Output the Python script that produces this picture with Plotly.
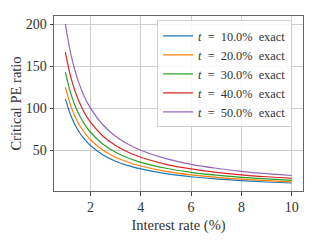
import plotly.graph_objects as go

interest_rate = [1, 1.25, 1.5, 1.75, 2, 2.5, 3, 3.5, 4, 5, 6, 7, 8, 9, 10]
tax_labels = ["10.0%", "20.0%", "30.0%", "40.0%", "50.0%"]
pe_t10 = [111.1, 88.9, 74.1, 63.5, 55.6, 44.4, 37.0, 31.7, 27.8, 22.2, 18.5, 15.9, 13.9, 12.3, 11.1]
pe_t20 = [125.0, 100.0, 83.3, 71.4, 62.5, 50.0, 41.7, 35.7, 31.3, 25.0, 20.8, 17.9, 15.6, 13.9, 12.5]
pe_t30 = [142.9, 114.3, 95.2, 81.6, 71.4, 57.1, 47.6, 40.8, 35.7, 28.6, 23.8, 20.4, 17.9, 15.9, 14.3]
pe_t40 = [166.7, 133.3, 111.1, 95.2, 83.3, 66.7, 55.6, 47.6, 41.7, 33.3, 27.8, 23.8, 20.8, 18.5, 16.7]
pe_t50 = [200.0, 160.0, 133.3, 114.3, 100.0, 80.0, 66.7, 57.1, 50.0, 40.0, 33.3, 28.6, 25.0, 22.2, 20.0]
series = [pe_t10, pe_t20, pe_t30, pe_t40, pe_t50]
colors = ["#1f77b4", "#ff7f0e", "#2ca02c", "#d62728", "#9467bd"]

font_family = "Liberation Serif"
text_color = "#333"

fig = go.Figure()
for lab, ys, c in zip(tax_labels, series, colors):
    fig.add_trace(go.Scatter(
        x=interest_rate, y=ys, mode="lines", line_shape="spline",
        line=dict(color=c, width=1.2),
        name=f"<i>t</i>&nbsp;&nbsp;=&nbsp;&nbsp;{lab}&nbsp;&nbsp;exact",
    ))

axis_common = dict(
    showline=True, mirror=True, linecolor="#666", linewidth=1,
    showgrid=True, gridcolor="#cfcfcf", gridwidth=1,
    ticks="outside", ticklen=3.5, tickcolor="#444", tickwidth=1,
    zeroline=False, automargin=False,
    tickfont=dict(family=font_family, size=14, color=text_color),
)

# page body has an 8px margin, so the figure is sized to fit the remaining window
fig.update_layout(
    width=312, height=232,
    margin=dict(l=46, r=17, t=8, b=49),
    paper_bgcolor="white", plot_bgcolor="white",
    font=dict(family=font_family, size=13.5, color=text_color),
    xaxis=dict(range=[0.55, 10.45], tickvals=[2, 4, 6, 8, 10],
               title=dict(text="Interest rate (%)", standoff=5,
                          font=dict(family=font_family, size=14.5, color=text_color)),
               **axis_common),
    yaxis=dict(range=[1.6, 209.5], tickvals=[50, 100, 150, 200],
               title=dict(text="Critical PE ratio", standoff=6,
                          font=dict(family=font_family, size=14.5, color=text_color)),
               **axis_common),
    legend=dict(x=0.414, y=0.975, xanchor="left", yanchor="top",
                bgcolor="rgba(255,255,255,0.85)", bordercolor="#d0d0d0", borderwidth=1,
                font=dict(family=font_family, size=12.3, color=text_color),
                tracegroupgap=0, itemwidth=30),
    showlegend=True,
)

fig.write_html("out.html")
